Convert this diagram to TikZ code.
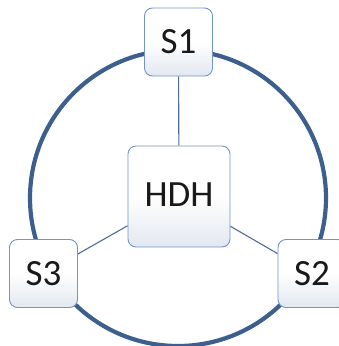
\documentclass[tikz,border=0pt]{standalone}
\usepackage{fontspec}
\setmainfont{Carlito}
\usetikzlibrary{shadings}
\definecolor{ringblue}{HTML}{3C5F8E}
\definecolor{boxedge}{HTML}{7296C8}
\definecolor{linkblue}{HTML}{4F6C96}
\definecolor{boxbottom}{HTML}{E2E8F0}
\tikzset{
  sbox/.style={draw=boxedge, line width=0.9pt, rounded corners=8pt,
    top color=white, bottom color=boxbottom, middle color=white, minimum width=68pt, minimum height=68pt,
    inner sep=0pt, font=\fontsize{37}{40}\selectfont, text=black!90},
  hbox/.style={sbox, minimum width=102pt, minimum height=101pt},
  link/.style={draw=linkblue, line width=1.1pt},
  ring/.style={draw=ringblue, line width=4.2pt}
}
\begin{document}
\begin{tikzpicture}[x=1pt,y=-1pt]
\useasboundingbox (0,0) rectangle (339,346);
\draw[ring] (178,198) circle[radius=148];
\node[sbox] (s1) at (178.5,42) {S1};
\node[hbox] (hdh) at (179,196.5) {\raisebox{3pt}{HDH}};
\node[sbox] (s3) at (43.5,273.5) {S3};
\node[sbox] (s2) at (312,273.5) {S2};
\draw[link] (s1) -- (hdh);
\draw[link] (hdh) -- (s3);
\draw[link] (hdh) -- (s2);
\end{tikzpicture}
\end{document}
